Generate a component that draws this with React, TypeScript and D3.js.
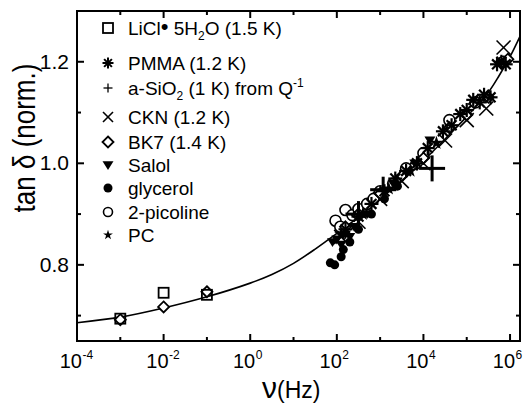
import React from "react";
import * as d3 from "d3";

const W = 524, H = 405;
const M = { left: 77, right: 520, top: 11, bottom: 341 };

// fit curve (log10 nu, tan delta)
const curveLog = [-4, -3, -2, -1, 0, 0.5, 1, 1.5, 2, 2.5, 3, 3.5, 4, 4.5, 5, 5.5, 5.75, 6, 6.23];
const curveVal = [0.686, 0.697, 0.715, 0.737, 0.764, 0.781, 0.803, 0.831, 0.862, 0.894, 0.93, 0.966, 1.005, 1.048, 1.092, 1.14, 1.173, 1.21, 1.25];

// series: [log10 nu, tan delta]
const liclData = [[-3, 0.694], [-2, 0.745], [-1, 0.741]];
const pmmaData = [[2.2, 0.87], [2.5, 0.895], [2.8, 0.92], [3.1, 0.945], [3.35, 0.97], [3.6, 0.985], [3.85, 1.0], [4.1, 1.03], [4.45, 1.063], [4.65, 1.075], [4.85, 1.097], [5.0, 1.105], [5.15, 1.125], [5.3, 1.12], [5.4, 1.135], [5.55, 1.13], [5.7, 1.195], [5.8, 1.2], [5.9, 1.195]];
const sio2Data = [[2.5, 0.9], [3.07, 0.948], [4.2, 0.99]];
const cknData = [[5.85, 1.228], [5.45, 1.108], [5.0, 1.085], [4.5, 1.045], [4.0, 1.0], [3.5, 0.965], [3.0, 0.93], [2.5, 0.885], [2.1, 0.855]];
const bk7Data = [[-3, 0.692], [-2, 0.717], [-1, 0.747], [5.95, 1.205], [5.5, 1.13], [5.0, 1.095], [4.6, 1.07], [4.0, 1.01], [3.5, 0.975], [3.0, 0.94], [2.5, 0.9], [2.2, 0.875]];
const salolData = [[4.15, 1.045], [3.8, 1.0], [3.3, 0.96], [3.0, 0.935], [2.7, 0.9], [2.4, 0.875], [2.2, 0.86], [2.0, 0.85], [1.9, 0.845], [2.1, 0.84], [2.3, 0.855]];
const glycerolData = [[1.85, 0.804], [1.95, 0.8], [2.1, 0.816], [2.15, 0.83], [2.3, 0.845], [2.5, 0.87], [2.8, 0.9], [3.1, 0.93], [3.4, 0.955]];
const picolineData = [[1.97, 0.887], [2.08, 0.875], [2.2, 0.908], [2.36, 0.898], [2.5, 0.91], [2.7, 0.92], [2.85, 0.93], [3.0, 0.945], [3.3, 0.96], [3.6, 0.99], [4.0, 1.02], [4.6, 1.085], [5.2, 1.12], [5.85, 1.2]];
const pcData = [[2.1, 0.86], [2.6, 0.9], [3.2, 0.95], [3.7, 0.985], [4.3, 1.04]];

const legendLabels = ["LiCl", "PMMA (1.2 K)", "a-SiO2", "CKN (1.2 K)", "BK7 (1.4 K)", "Salol", "glycerol", "2-picoline", "PC"];
const legendY = [28, 63, 88, 117, 142, 165, 188, 212, 235];

const xTicks = [-4, -2, 0, 2, 4, 6];
const xMinor = [-3, -1, 1, 3, 5];
const yTicks = [0.8, 1.0, 1.2];
const yMinor = [0.7, 0.9, 1.1];

const x = d3.scaleLog().domain([1e-4, Math.pow(10, 6.23)]).range([M.left, M.right]);
const y = d3.scaleLinear().domain([0.65, 1.3]).range([M.bottom, M.top]);

function Sym({ type, cx, cy, big }: { type: string; cx: number; cy: number; big?: boolean }) {
  const k = "#000";
  switch (type) {
    case "square":
      return <rect x={cx - 5} y={cy - 5} width={10} height={10} fill="none" stroke={k} strokeWidth={1.8} />;
    case "asterisk": {
      const r = big ? 7 : 5.5;
      return (
        <g stroke={k} strokeWidth={big ? 2.2 : 2}>
          {[0, 45, 90, 135].map((a) => {
            const t = (a * Math.PI) / 180;
            return <line key={a} x1={cx - r * Math.cos(t)} y1={cy - r * Math.sin(t)} x2={cx + r * Math.cos(t)} y2={cy + r * Math.sin(t)} />;
          })}
        </g>
      );
    }
    case "plus": {
      const r = big ? 13 : 4.5;
      return (
        <g stroke={k} strokeWidth={big ? 3 : 1.3}>
          <line x1={cx - r} y1={cy} x2={cx + r} y2={cy} />
          <line x1={cx} y1={cy - r} x2={cx} y2={cy + r} />
        </g>
      );
    }
    case "cross": {
      const r = big ? 7 : 5;
      return (
        <g stroke={k} strokeWidth={1.6}>
          <line x1={cx - r} y1={cy - r} x2={cx + r} y2={cy + r} />
          <line x1={cx - r} y1={cy + r} x2={cx + r} y2={cy - r} />
        </g>
      );
    }
    case "diamond": {
      const r = 5.5;
      return <path d={`M${cx},${cy - r}L${cx + r},${cy}L${cx},${cy + r}L${cx - r},${cy}Z`} fill="#fff" stroke={k} strokeWidth={1.8} />;
    }
    case "tri": {
      const r = 5.5;
      return <path d={`M${cx - r},${cy - r * 0.7}L${cx + r},${cy - r * 0.7}L${cx},${cy + r * 0.9}Z`} fill={k} />;
    }
    case "dot":
      return <circle cx={cx} cy={cy} r={4.5} fill={k} />;
    case "circle":
      return <circle cx={cx} cy={cy} r={big ? 5.5 : 4.5} fill="#fff" stroke={k} strokeWidth={1.6} />;
    case "star": {
      const s = d3.symbol(d3.symbolStar, big ? 60 : 30)();
      return <path d={s || ""} transform={`translate(${cx},${cy})`} fill={k} />;
    }
  }
  return null;
}

const series = [
  { type: "square", data: liclData },
  { type: "asterisk", data: pmmaData },
  { type: "plus", data: sio2Data },
  { type: "cross", data: cknData },
  { type: "diamond", data: bk7Data },
  { type: "tri", data: salolData },
  { type: "dot", data: glycerolData },
  { type: "circle", data: picolineData },
  { type: "star", data: pcData },
];
const drawOrder = [7, 6, 5, 4, 8, 3, 0, 1, 2];

export default function App() {
  const line = d3
    .line<number>()
    .x((_, i) => x(Math.pow(10, curveLog[i])))
    .y((v) => y(v))
    .curve(d3.curveCatmullRom.alpha(0.5));
  const font = "Liberation Sans, Arial, Helvetica, sans-serif";
  return (
    <svg width={W} height={H} style={{ position: "absolute", left: 0, top: 0, background: "#fff" }} fontFamily={font}>
      <rect width={W} height={H} fill="#fff" />
      <path d={line(curveVal) || ""} fill="none" stroke="#000" strokeWidth={1.6} />
      {drawOrder.map((si) =>
        series[si].data.map((d, j) => (
          <Sym key={`${si}-${j}`} type={series[si].type} cx={x(Math.pow(10, d[0]))} cy={y(d[1])} big />
        ))
      )}
      {/* frame */}
      <rect x={M.left} y={M.top} width={M.right - M.left} height={M.bottom - M.top} fill="none" stroke="#000" strokeWidth={2} />
      {xTicks.map((t) => {
        const px = x(Math.pow(10, t));
        return (
          <g key={t}>
            <line x1={px} x2={px} y1={M.bottom} y2={M.bottom - 7} stroke="#000" strokeWidth={2} />
            <line x1={px} x2={px} y1={M.top} y2={M.top + 7} stroke="#000" strokeWidth={2} />
            <text x={px + 5} y={368} fontSize={20} textAnchor="end">10</text>
            <text x={px + 5.5} y={359} fontSize={12}>{t}</text>
          </g>
        );
      })}
      {xMinor.map((t) => {
        const px = x(Math.pow(10, t));
        return (
          <g key={t}>
            <line x1={px} x2={px} y1={M.bottom} y2={M.bottom - 4} stroke="#000" strokeWidth={2} />
            <line x1={px} x2={px} y1={M.top} y2={M.top + 4} stroke="#000" strokeWidth={2} />
          </g>
        );
      })}
      {yTicks.map((t) => {
        const py = y(t);
        return (
          <g key={t}>
            <line x1={M.left} x2={M.left + 7} y1={py} y2={py} stroke="#000" strokeWidth={2} />
            <line x1={M.right} x2={M.right - 7} y1={py} y2={py} stroke="#000" strokeWidth={2} />
            <text x={69} y={py + 7} fontSize={21} textAnchor="end">{d3.format(".1f")(t)}</text>
          </g>
        );
      })}
      {yMinor.map((t) => {
        const py = y(t);
        return (
          <g key={t}>
            <line x1={M.left} x2={M.left + 4} y1={py} y2={py} stroke="#000" strokeWidth={2} />
            <line x1={M.right} x2={M.right - 4} y1={py} y2={py} stroke="#000" strokeWidth={2} />
          </g>
        );
      })}
      {/* legend */}
      {series.map((s, i) => (
        <Sym key={"l" + i} type={s.type} cx={108} cy={legendY[i]} />
      ))}
      {legendLabels.map((lab, i) => {
        const ty = legendY[i] + 7;
        if (i === 0)
          return (
            <text key={i} x={128} y={ty} fontSize={19}>
              LiCl<tspan fontSize={22} dy={-1}>•</tspan><tspan dy={1}> 5H</tspan><tspan fontSize={12} dy={5}>2</tspan><tspan dy={-5}>O (1.5 K)</tspan>
            </text>
          );
        if (i === 2)
          return (
            <text key={i} x={128} y={ty} fontSize={19}>
              a-SiO<tspan fontSize={12} dy={5}>2</tspan><tspan dy={-5}> (1 K) from Q</tspan><tspan fontSize={12} dy={-8}>-1</tspan>
            </text>
          );
        return (
          <text key={i} x={128} y={ty} fontSize={19}>{lab}</text>
        );
      })}
      {/* axis titles */}
      <text transform="translate(35,138) scale(1.2,1) rotate(-90)" fontSize={26} textAnchor="middle">tan δ (norm.)</text>
      <text x={262} y={398} fontSize={30}>ν<tspan fontSize={23} dy={0}>(Hz)</tspan></text>
    </svg>
  );
}
